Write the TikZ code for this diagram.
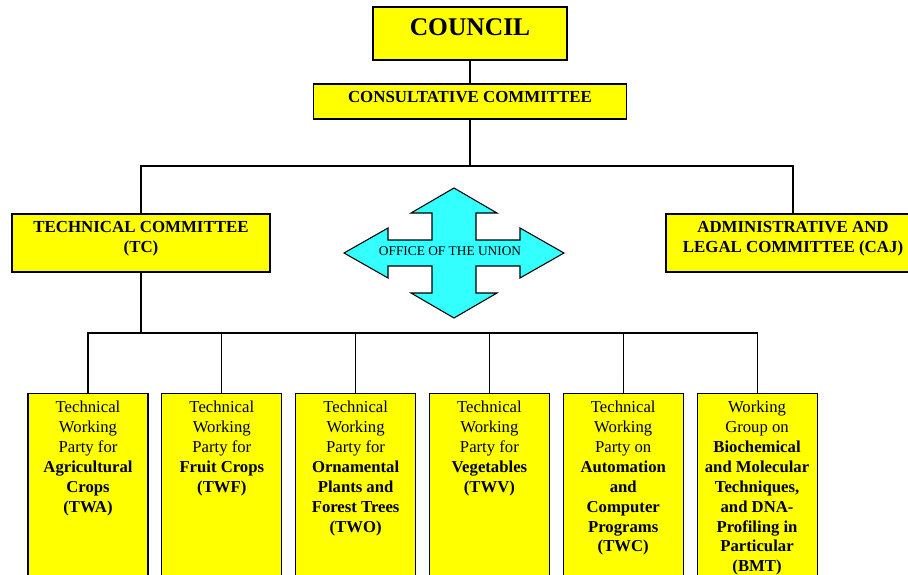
\documentclass[tikz,border=0pt]{standalone}
\usepackage{fontspec}
\setmainfont{Liberation Serif}
\usetikzlibrary{positioning,calc}
\definecolor{BoxYellow}{HTML}{FFFF00}
\definecolor{UnionCyan}{HTML}{33FFFF}

% text that sits at the top of its box
\newcommand{\topbox}[4]{\parbox[c][#1][t]{#2}{\centering\rule{0pt}{#3}#4}}
\newcommand{\wpbox}[1]{\topbox{4cm}{2.4cm}{11pt}{#1}}

\begin{document}
\begin{tikzpicture}[x=0.2mm,y=-0.2mm,
				every node/.style={align=center,draw=black,line width=0.6pt,fill=BoxYellow,inner sep=0pt},
				head/.style={font=\fontsize{9.6}{11.3}\selectfont\bfseries},
				party/.style={anchor=north,font=\fontsize{9.5}{11.3}\selectfont},
				link/.style={line width=0.6pt},
				node distance=0.255cm,
			]
			\useasboundingbox (0,0) rectangle (908,574);

			\node (council) [font=\fontsize{14.5}{17}\selectfont\bfseries] at (470,33.5) {\topbox{1.06cm}{3.88cm}{16pt}{COUNCIL}};
			\node (consult) [head] at (470,101.5) {\topbox{0.7cm}{6.26cm}{10.3pt}{CONSULTATIVE COMMITTEE}};
			\node (tc) [head] at (141,243) {\topbox{1.16cm}{5.16cm}{10.7pt}{TECHNICAL COMMITTEE\\(TC)}};
			\node (caj) [head] at (793,243) {\topbox{1.16cm}{5.08cm}{10.7pt}{ADMINISTRATIVE AND\\LEGAL COMMITTEE (CAJ)}};

			% the four-way arrow
			\begin{scope}[shift={(454,253)}]
				\filldraw[link,fill=UnionCyan] (0,-65) -- (43,-40) -- (22,-40) -- (22,-13) -- (66,-13) -- (66,-25) -- (110,0) -- (66,25) -- (66,13) -- (22,13) -- (22,40) -- (43,40) -- (0,65) -- (-43,40) -- (-22,40) -- (-22,13) -- (-66,13) -- (-66,25) -- (-110,0) -- (-66,-25) -- (-66,-13) -- (-22,-13) -- (-22,-40) -- (-43,-40) -- cycle;
			\end{scope}
			\node (office) [draw=none,fill=none,font=\fontsize{7.6}{9}\selectfont] at (450,251) {OFFICE OF THE UNION};

			\node (twa) [party] at (88,393) {\wpbox{Technical\\Working\\Party for\\{\bfseries Agricultural\\Crops\\(TWA)}}};
			\node (twf) [party,right=of twa] {\wpbox{Technical\\Working\\Party for\\{\bfseries Fruit Crops\\(TWF)}}};
			\node (two) [party,right=of twf] {\wpbox{Technical\\Working\\Party for\\{\bfseries Ornamental\\Plants and\\Forest Trees\\(TWO)}}};
			\node (twv) [party,right=of two] {\wpbox{Technical\\Working\\Party for\\{\bfseries Vegetables\\(TWV)}}};
			\node (twc) [party,right=of twv] {\wpbox{Technical\\Working\\Party on\\{\bfseries Automation\\and\\Computer\\Programs\\(TWC)}}};
			\node (bmt) [party,right=of twc] {\wpbox{Working\\Group on\\{\bfseries Biochemical\\and Molecular\\Techniques,\\and DNA-\\Profiling in\\Particular\\(BMT)}}};

			\coordinate (bus1) at (470,166);
			\coordinate (bus2) at (141,333);

			\draw[link] (council) -- (consult);
			\draw[link] (consult) -- (bus1);
			\draw[link] (tc.north) |- (bus1) -| (caj.north);
			\draw[link] (tc) -- (bus2);
			\draw[link] (twa.north) |- (bus2) -| (bmt.north);
			\foreach \n in {twf,two,twv,twc}
				\draw[link] (\n.north) -- (\n.north |- bus2);
		\end{tikzpicture}
\end{document}
